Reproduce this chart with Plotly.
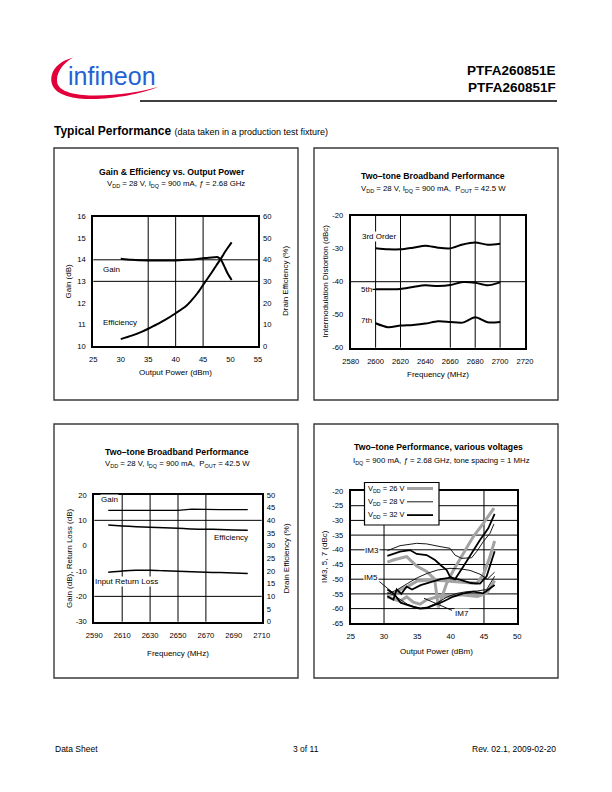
import plotly.graph_objects as go

PAGE_W, PAGE_H = 612, 792
FONT = "Liberation Sans, Arial, Helvetica, sans-serif"

# ---------------- Chart 1: Gain & Efficiency vs. Output Power ----------------
c1_gain_pout = [30, 32, 35, 38, 40, 42, 44, 45, 46, 47, 47.7, 48.2, 48.6, 49.0, 49.5, 50.2]
c1_gain_db = [14.05, 14.0, 13.97, 13.97, 13.97, 14.0, 14.04, 14.07, 14.1, 14.12, 14.12, 14.02, 13.84, 13.62, 13.35, 13.06]
c1_eff_pout = [30, 32, 34, 35, 36, 38, 40, 42, 43, 44, 45, 46, 47, 48, 48.5, 49, 49.5, 50.2]
c1_eff_pct = [3.2, 4.8, 6.8, 8.0, 9.3, 12.0, 15.2, 18.8, 21.5, 24.6, 28.3, 32.0, 35.8, 39.6, 41.6, 43.7, 45.6, 48.1]
c1_x_ticks = [25, 30, 35, 40, 45, 50, 55]
c1_gain_ticks = [10, 11, 12, 13, 14, 15, 16]
c1_eff_ticks = [0, 10, 20, 30, 40, 50, 60]
c1_grid_x = [35, 40, 45]
c1_grid_y = [13, 14]

# ---------------- Chart 2: Two-tone Broadband (IMD) ----------------
c2_freq = [2600, 2610, 2620, 2630, 2640, 2650, 2660, 2670, 2680, 2690, 2700]
c2_im3 = [-29.9, -30.2, -30.2, -29.7, -29.1, -29.7, -29.9, -28.7, -28.1, -28.8, -28.5]
c2_im5 = [-42.3, -42.3, -42.2, -41.6, -41.1, -41.3, -41.0, -40.1, -40.3, -41.1, -40.2]
c2_im7 = [-52.6, -53.8, -53.3, -53.1, -52.7, -52.0, -52.2, -52.4, -50.8, -52.3, -52.2]
c2_x_ticks = [2580, 2600, 2620, 2640, 2660, 2680, 2700, 2720]
c2_y_ticks = [-60, -50, -40, -30, -20]
c2_grid_x = [2600, 2620, 2660, 2680, 2700]
c2_grid_y = [-40]

# ---------------- Chart 3: Two-tone Broadband (Gain/Eff/IRL) ----------------
c3_freq = [2600, 2610, 2620, 2630, 2640, 2650, 2660, 2670, 2680, 2690, 2700]
c3_gain = [13.9, 13.9, 13.9, 13.9, 13.9, 13.95, 14.4, 14.2, 14.2, 14.2, 14.2]
c3_eff = [38.2, 37.8, 37.5, 37.3, 37.1, 36.9, 36.6, 36.5, 36.4, 36.2, 36.1]
c3_irl = [-10.5, -10.0, -9.7, -9.7, -9.9, -10.1, -10.3, -10.5, -10.6, -10.8, -11.0]
c3_x_ticks = [2590, 2610, 2630, 2650, 2670, 2690, 2710]
c3_left_ticks = [-30, -20, -10, 0, 10, 20]
c3_right_ticks = [0, 5, 10, 15, 20, 25, 30, 35, 40, 45, 50]
c3_grid_x = [2610, 2630, 2650, 2670]
c3_grid_y = [-20, 10]

# ---------------- Chart 4: Two-tone Performance, various voltages ----------------
c4_im3_26_x = [30.5, 31.5, 33.4, 34.9, 36.4, 37.6, 38.15, 38.8, 39.4, 40.4, 41.9, 43.4, 44.9, 46.5]
c4_im3_26_y = [-44.2, -43.4, -42.3, -45.5, -47.4, -50.0, -59.6, -55.0, -51.4, -47.0, -41.2, -35.5, -31.0, -25.8]
c4_im3_28_x = [30.5, 32.4, 34.9, 36.4, 38.4, 39.9, 40.65, 41.65, 43.15, 43.9, 44.9, 45.9, 46.5]
c4_im3_28_y = [-40.3, -38.6, -37.8, -38.0, -38.9, -39.5, -41.8, -42.9, -42.7, -40.6, -37.2, -34.4, -31.2]
c4_im3_32_x = [30.5, 32.4, 33.9, 34.9, 36.4, 37.65, 38.65, 39.4, 39.9, 40.65, 41.9, 43.15, 44.4, 45.65, 46.6]
c4_im3_32_y = [-42.1, -40.6, -40.1, -41.4, -41.8, -43.5, -45.5, -46.9, -49.1, -50.0, -45.7, -41.2, -36.7, -32.7, -27.8]
c4_im5_26_x = [30.5, 31.5, 32.5, 33.5, 35.0, 37.0, 39.0, 41.0, 42.5, 43.9, 44.9, 45.8, 46.6]
c4_im5_26_y = [-55.5, -55.0, -53.5, -52.5, -50.6, -50.3, -50.5, -50.8, -51.2, -51.4, -48.5, -43.0, -37.0]
c4_im5_28_x = [30.5, 31.9, 33.5, 35.0, 36.5, 38.0, 39.9, 41.5, 42.9, 44.4, 45.5, 46.6]
c4_im5_28_y = [-55.0, -53.7, -51.5, -49.5, -48.0, -46.9, -46.3, -46.5, -47.0, -48.3, -50.0, -47.6]
c4_im5_32_x = [30.5, 31.4, 31.9, 32.6, 33.4, 34.2, 35.5, 37.0, 38.5, 40.0, 41.5, 43.0, 44.4, 45.4, 46.6]
c4_im5_32_y = [-55.8, -57.0, -53.5, -55.0, -52.5, -53.5, -52.0, -51.0, -50.0, -49.5, -50.2, -51.3, -51.5, -49.0, -40.5]
c4_im7_26_x = [30.5, 31.5, 32.4, 33.4, 34.4, 35.4, 36.4, 38.0, 39.9, 41.5, 42.9, 44.0, 45.4, 46.6]
c4_im7_26_y = [-56.0, -56.8, -57.5, -56.0, -57.8, -58.5, -57.0, -56.0, -55.8, -55.3, -55.6, -55.9, -54.8, -50.5]
c4_im7_28_x = [30.5, 31.5, 32.5, 33.5, 34.5, 35.5, 36.5, 38.0, 39.5, 41.0, 42.5, 44.0, 45.4, 46.6]
c4_im7_28_y = [-54.5, -55.5, -57.0, -58.5, -59.3, -59.8, -59.5, -58.0, -56.0, -54.8, -54.2, -54.0, -53.5, -49.0]
c4_im7_32_x = [30.5, 31.5, 32.5, 33.5, 34.5, 35.4, 36.4, 37.5, 38.9, 40.4, 41.9, 43.4, 44.9, 46.6]
c4_im7_32_y = [-53.5, -55.0, -58.0, -58.8, -59.5, -60.0, -59.8, -58.8, -57.6, -55.9, -54.8, -54.2, -54.8, -52.0]
c4_x_ticks = [25, 30, 35, 40, 45, 50]
c4_y_ticks = [-65, -60, -55, -50, -45, -40, -35, -30, -25, -20]
c4_grid_x = [30, 45]
c4_grid_y = [-60, -55, -50, -45, -40, -35, -30, -25]
c4_legend_labels = ["V<sub>DD</sub> = 26 V", "V<sub>DD</sub> = 28 V", "V<sub>DD</sub> = 32 V"]

# ---------------- styles ----------------
GRAY = dict(color="#a3a3a3", width=3)
THIN = dict(color="black", width=0.9)
THICK = dict(color="black", width=1.8)


def X(px):
    return px / PAGE_W


def Y(py):
    return 1 - py / PAGE_H


def axis(dom, rng, ticks, kind="x", **kw):
    d = dict(range=rng, tickvals=ticks, ticktext=[str(t) for t in ticks],
             showline=True, linecolor="black", linewidth=2, mirror=True,
             showgrid=False, zeroline=False, ticks="", fixedrange=True,
             tickfont=dict(family=FONT, size=7.6, color="black"))
    d["domain"] = dom
    d["ticklabelstandoff"] = 5 if kind == "x" else 4
    d.update(kw)
    return d


fig = go.Figure()

# chart 1 traces
fig.add_trace(go.Scatter(x=c1_gain_pout, y=c1_gain_db, xaxis="x", yaxis="y", mode="lines",
                         line=dict(color="black", width=2, shape="spline", smoothing=0.8)))
fig.add_trace(go.Scatter(x=c1_eff_pout, y=c1_eff_pct, xaxis="x", yaxis="y2", mode="lines",
                         line=dict(color="black", width=2, shape="spline", smoothing=0.8)))
# chart 2 traces
for ys in (c2_im3, c2_im5, c2_im7):
    fig.add_trace(go.Scatter(x=c2_freq, y=ys, xaxis="x2", yaxis="y3", mode="lines",
                             line=dict(color="black", width=2, shape="spline", smoothing=0.8)))
# chart 3 traces
fig.add_trace(go.Scatter(x=c3_freq, y=c3_gain, xaxis="x3", yaxis="y4", mode="lines",
                         line=dict(color="black", width=1.3)))
fig.add_trace(go.Scatter(x=c3_freq, y=c3_irl, xaxis="x3", yaxis="y4", mode="lines",
                         line=dict(color="black", width=1.5, shape="spline", smoothing=0.6)))
fig.add_trace(go.Scatter(x=c3_freq, y=c3_eff, xaxis="x3", yaxis="y5", mode="lines",
                         line=dict(color="black", width=1.5, shape="spline", smoothing=0.6)))
# chart 4 traces (gray first, then black)
for xs, ys, st in [
    (c4_im3_26_x, c4_im3_26_y, GRAY), (c4_im5_26_x, c4_im5_26_y, GRAY), (c4_im7_26_x, c4_im7_26_y, GRAY),
    (c4_im3_28_x, c4_im3_28_y, THIN), (c4_im5_28_x, c4_im5_28_y, THIN), (c4_im7_28_x, c4_im7_28_y, THIN),
    (c4_im3_32_x, c4_im3_32_y, THICK), (c4_im5_32_x, c4_im5_32_y, THICK), (c4_im7_32_x, c4_im7_32_y, THICK),
]:
    fig.add_trace(go.Scatter(x=xs, y=ys, xaxis="x4", yaxis="y6", mode="lines", line=st))

shapes = []
annots = []


def txt(s, px, py, size=8, bold=False, xa="center", ya="middle", angle=0, bg=None, color="black", family=FONT):
    a = dict(text=(f"<b>{s}</b>" if bold else s), x=X(px), y=Y(py), xref="paper", yref="paper",
             showarrow=False, xanchor=xa, yanchor=ya, textangle=angle, borderpad=0,
             align=("left" if xa == "left" else "right" if xa == "right" else "center"),
             font=dict(family=family, size=size, color=color))
    if bg:
        a["bgcolor"] = bg
    annots.append(a)


def grid(xr, yr, xs=(), ys=()):
    for v in xs:
        shapes.append(dict(type="line", xref=xr, yref=yr + " domain", x0=v, x1=v, y0=0, y1=1,
                           line=dict(color="black", width=1), layer="below"))
    for v in ys:
        shapes.append(dict(type="line", xref=xr + " domain", yref=yr, x0=0, x1=1, y0=v, y1=v,
                           line=dict(color="black", width=1), layer="below"))


grid("x", "y", c1_grid_x, c1_grid_y)
grid("x2", "y3", c2_grid_x, c2_grid_y)
grid("x3", "y4", c3_grid_x, c3_grid_y)
grid("x4", "y6", c4_grid_x, c4_grid_y)

# chart boxes
for x0, y0, x1, y1 in [(54, 148, 298, 400), (314, 148, 558, 400), (54, 424, 298, 678), (314, 424, 558, 678)]:
    shapes.append(dict(type="rect", xref="paper", yref="paper", x0=X(x0), x1=X(x1), y0=Y(y1), y1=Y(y0),
                       line=dict(color="#3a3a3a", width=1.4), layer="below"))

# header line
shapes.append(dict(type="line", xref="paper", yref="paper", x0=X(140), x1=X(557), y0=Y(101), y1=Y(101),
                   line=dict(color="black", width=1.3)))


# red swoosh of logo (pixel coords -> paper)
def P(px, py):
    return f"{X(px):.5f},{Y(py):.5f}"


sw = (f"M {P(73,57.5)} C {P(57,62)} {P(49,72)} {P(52,84)} C {P(56,97)} {P(78,99.5)} {P(96,99)} "
      f"C {P(121,98)} {P(146,92.5)} {P(159,86.5)} C {P(141,92)} {P(119,95.5)} {P(96,95.5)} "
      f"C {P(79,95.5)} {P(61,93)} {P(57.5,84)} C {P(55,74)} {P(62,64)} {P(73,57.5)} Z")
shapes.append(dict(type="path", xref="paper", yref="paper", path=sw, fillcolor="#e2003a",
                   line=dict(width=0)))

# logo text & header
txt("infineon", 67, 75.5, size=25, xa="left", color="#1e62d6", family="Liberation Sans, Arial, sans-serif")
txt("PTFA260851E", 557, 70.5, size=13.5, bold=True, xa="right")
txt("PTFA260851F", 557, 87.5, size=13.5, bold=True, xa="right")
txt("<b>Typical Performance</b> <span style='font-size:9px'>(data taken in a production test fixture)</span>",
    53, 131, size=12, xa="left")

# footer
txt("Data Sheet", 54, 749, size=8.5, xa="left")
txt("3 of 11", 306, 749, size=8.5)
txt("Rev. 02.1, 2009-02-20", 557, 749, size=8.5, xa="right")

# chart 1 texts
txt("Gain & Efficiency vs. Output Power", 172, 172, size=8.7, bold=True)
txt("V<sub>DD</sub> = 28 V, I<sub>DQ</sub> = 900 mA, <i>ƒ</i> = 2.68 GHz", 176, 184.5, size=7.8)
txt("Output Power (dBm)", 175.5, 372, size=8)
txt("Gain (dB)", 68, 281.5, size=8, angle=-90)
txt("Drain Efficiency (%)", 285.5, 281.5, size=8, angle=-90)
txt("Gain", 101.5, 269, size=8, xa="left")
txt("Efficiency", 101.5, 322.5, size=8, xa="left")

# chart 2 texts
txt("Two–tone Broadband Performance", 433, 176, size=8.7, bold=True)
txt("V<sub>DD</sub> = 28 V, I<sub>DQ</sub> = 900 mA,  P<sub>OUT</sub> = 42.5 W", 433, 188.5, size=7.8)
txt("Frequency (MHz)", 438, 374.5, size=8)
txt("Intermodulation Distortion (dBc)", 325, 281.5, size=8, angle=-90)
txt("3rd Order", 360.5, 236.5, size=8, xa="left", bg="white")
txt("5th", 359.5, 289.5, size=8, xa="left")
txt("7th", 359.5, 320.5, size=8, xa="left")
shapes.append(dict(type="line", xref="x2", yref="y3", x0=2597.5, x1=c2_freq[0], y0=c2_im5[0], y1=c2_im5[0],
                   line=dict(color="black", width=1.2)))

# chart 3 texts
txt("Two–tone Broadband Performance", 177, 451.5, size=8.7, bold=True)
txt("V<sub>DD</sub> = 28 V, I<sub>DQ</sub> = 900 mA,  P<sub>OUT</sub> = 42.5 W", 177, 463.5, size=7.8)
txt("Frequency (MHz)", 177.5, 653.5, size=8)
txt("Gain (dB), Return Loss (dB)", 69.5, 558.5, size=8, angle=-90)
txt("Drain Efficiency (%)", 286, 558.5, size=8, angle=-90)
txt("Gain", 99.5, 500, size=8, xa="left", bg="white")
txt("Efficiency", 213, 537.5, size=8, xa="left", bg="white")
txt("Input Return Loss", 94, 581.5, size=8, xa="left", bg="white")

# chart 4 texts
txt("Two–tone Performance, various voltages", 438.5, 447.5, size=8.7, bold=True)
txt("I<sub>DQ</sub> = 900 mA, <i>ƒ</i> = 2.68 GHz, tone spacing = 1 MHz", 441, 460.5, size=7.8)
txt("Output Power (dBm)", 436, 651, size=8)
txt("IM3, 5, 7 (dBc)", 324, 557, size=8, angle=-90)
txt("IM3", 372, 550.5, size=8, bg="white")
txt("IM5", 370.5, 577.5, size=8, bg="white")
txt("IM7", 462, 613.5, size=8, bg="white")
shapes.append(dict(type="line", xref="x4", yref="y6", x0=29.3, x1=31.8, y0=-50.8, y1=-55.5,
                   line=dict(color="black", width=0.9)))
shapes.append(dict(type="line", xref="x4", yref="y6", x0=40.2, x1=36.0, y0=-60.6, y1=-56.5,
                   line=dict(color="black", width=0.9)))

# chart 4 legend box
shapes.append(dict(type="rect", xref="paper", yref="paper", x0=X(364.5), x1=X(439), y0=Y(525), y1=Y(482.5),
                   fillcolor="white", line=dict(color="black", width=1.2), layer="above"))
for i, (lab, st) in enumerate(zip(c4_legend_labels, (GRAY, THIN, THICK))):
    ry = 488.5 + i * 13.3
    txt(lab, 367, ry, size=7.5, xa="left")
    shapes.append(dict(type="line", xref="paper", yref="paper", x0=X(407), x1=X(433), y0=Y(ry), y1=Y(ry),
                       line=st, layer="above"))

fig.update_layout(
    width=PAGE_W, height=PAGE_H, margin=dict(l=0, r=0, t=0, b=0, autoexpand=False),
    paper_bgcolor="white", plot_bgcolor="white", showlegend=False,
    font=dict(family=FONT, color="black"),
    xaxis=axis([X(93.3), X(258)], [25, 55], c1_x_ticks, "x", anchor="y"),
    yaxis=axis([Y(346), Y(216.7)], [10, 16], c1_gain_ticks, "y", anchor="x"),
    yaxis2=axis([Y(346), Y(216.7)], [0, 60], c1_eff_ticks, "y", anchor="x", overlaying="y", side="right",
                showline=False, mirror=False),
    xaxis2=axis([X(350.7), X(525)], [2580, 2720], c2_x_ticks, "x", anchor="y3"),
    yaxis3=axis([Y(347.7), Y(215.7)], [-60, -20], c2_y_ticks, "y", anchor="x2"),
    xaxis3=axis([X(94.3), X(261.7)], [2590, 2710], c3_x_ticks, "x", anchor="y4"),
    yaxis4=axis([Y(621.7), Y(495)], [-30, 20], c3_left_ticks, "y", anchor="x3"),
    yaxis5=axis([Y(621.7), Y(495)], [0, 50], c3_right_ticks, "y", anchor="x3", overlaying="y4", side="right",
                showline=False, mirror=False),
    xaxis4=axis([X(350.7), X(517.3)], [25, 50], c4_x_ticks, "x", anchor="y6"),
    yaxis6=axis([Y(623.3), Y(491)], [-65, -20], c4_y_ticks, "y", anchor="x4"),
    shapes=shapes, annotations=annots,
)

fig.write_html("out.html",
               post_script="document.body.style.margin='0';document.body.style.padding='0';"
                           "document.body.style.overflow='hidden';")
